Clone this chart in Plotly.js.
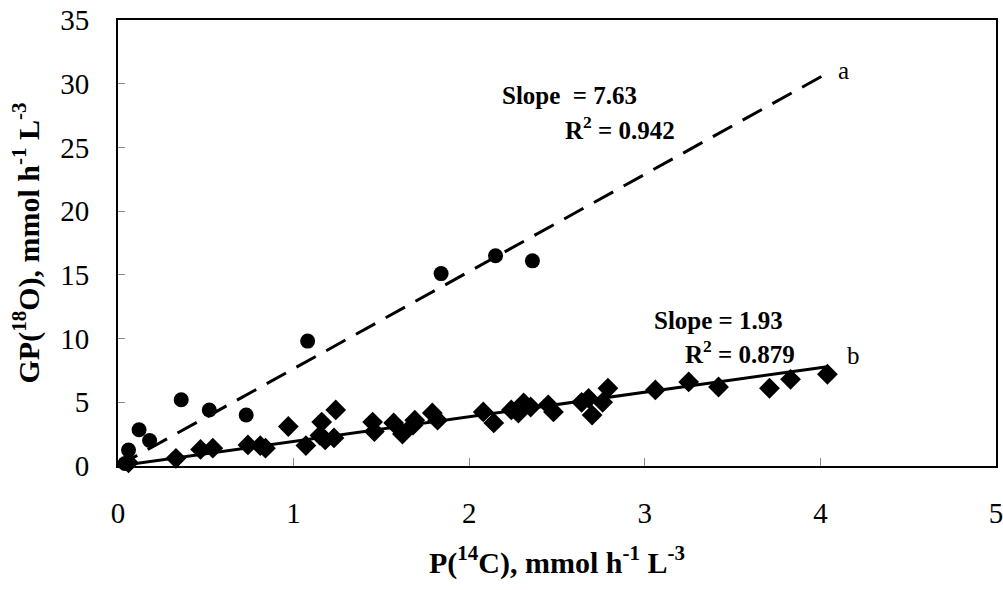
<!DOCTYPE html>
<html>
<head>
<meta charset="utf-8">
<script src="https://cdn.plot.ly/plotly-3.0.1.min.js"></script>
<style>html,body{margin:0;padding:0;background:#fff;}#chart{width:1003px;height:590px;}</style>
</head>
<body>
<div id="chart"></div>
<script>
// Series a (circles)
const aX = [0.04, 0.06, 0.12, 0.18, 0.36, 0.52, 0.73, 1.08, 1.84, 2.15, 2.36];
const aY = [0.2, 1.26, 2.85, 2.0, 5.2, 4.4, 4.0, 9.8, 15.1, 16.5, 16.1];
// Series b (diamonds)
const bX = [0.06, 0.33, 0.47, 0.54, 0.74, 0.81, 0.84, 0.97, 1.07, 1.15, 1.16, 1.18, 1.23, 1.24,
            1.45, 1.46, 1.57, 1.62, 1.68, 1.69, 1.79, 1.82, 2.08, 2.14, 2.24, 2.28, 2.31, 2.35,
            2.45, 2.48, 2.64, 2.68, 2.70, 2.76, 2.79, 3.06, 3.25, 3.42, 3.71, 3.83, 4.04];
const bY = [0.25, 0.6, 1.3, 1.4, 1.65, 1.6, 1.4, 3.1, 1.6, 2.4, 3.45, 2.05, 2.2, 4.4,
            3.45, 2.7, 3.38, 2.51, 3.2, 3.6, 4.16, 3.6, 4.24, 3.38, 4.4, 4.16, 4.95, 4.63,
            4.8, 4.24, 5.0, 5.3, 4.0, 5.0, 6.1, 5.97, 6.6, 6.2, 6.1, 6.8, 7.2];
// Regression fits
const slopes = [7.63, 1.93];
const r2 = [0.942, 0.879];
const fitXa = [0, 4.05];
const fitXb = [0, 4.04];
const xTicks = [0, 1, 2, 3, 4, 5];
const yTicks = [0, 5, 10, 15, 20, 25, 30, 35];

const serif = "Liberation Serif, Times New Roman, serif";

const traces = [
  {x: fitXa, y: fitXa.map(v => v * slopes[0]), mode: 'lines', type: 'scatter',
   line: {color: '#000', width: 3, dash: '22px,12px'}, hoverinfo: 'skip'},
  {x: fitXb, y: fitXb.map(v => v * slopes[1]), mode: 'lines', type: 'scatter',
   line: {color: '#000', width: 3}, hoverinfo: 'skip'},
  {x: aX, y: aY, mode: 'markers', type: 'scatter', cliponaxis: false,
   marker: {symbol: 'circle', size: 15, color: '#000'}},
  {x: bX, y: bY, mode: 'markers', type: 'scatter', cliponaxis: false,
   marker: {symbol: 'diamond', size: 16, color: '#000'}}
];

const layout = {
  width: 1003, height: 590,
  margin: {l: 118, r: 7, t: 20, b: 124},
  paper_bgcolor: '#fff', plot_bgcolor: '#fff',
  showlegend: false,
  font: {family: serif, color: '#000'},
  xaxis: {
    range: [0, 5], tickvals: xTicks, ticktext: xTicks.map(String),
    showgrid: false, zeroline: false,
    showline: true, linecolor: '#000', linewidth: 2, mirror: true,
    ticks: 'inside', ticklen: 8, tickcolor: '#888', tickwidth: 1,
    tickfont: {family: serif, size: 29, color: '#000'},
    ticklabelstandoff: 20, ticklabeloverflow: 'allow',
    title: {text: '<b>P(<sup>14</sup>C), mmol h<sup>-1</sup> L<sup>-3</sup></b>',
            font: {family: serif, size: 30, color: '#000'}, standoff: 24}
  },
  yaxis: {
    range: [0, 35], tickvals: yTicks, ticktext: yTicks.map(String),
    showgrid: false, zeroline: false,
    showline: true, linecolor: '#000', linewidth: 2, mirror: true,
    ticks: 'inside', ticklen: 7, tickcolor: '#888', tickwidth: 1,
    tickfont: {family: serif, size: 29, color: '#000'},
    ticklabelstandoff: 21, ticklabeloverflow: 'allow',
    title: {text: '<b>GP(<sup>18</sup>O), mmol h<sup>-1</sup> L<sup>-3</sup></b>',
            font: {family: serif, size: 30, color: '#000'}, standoff: 12}
  },
  annotations: [
    {x: 2.574, y: 29.1, xref: 'x', yref: 'y', text: '<b>Slope  = ' + slopes[0].toFixed(2) + '</b>',
     showarrow: false, font: {family: serif, size: 25}},
    {x: 2.86, y: 26.5, xref: 'x', yref: 'y', text: '<b>R<sup>2</sup> = ' + r2[0].toFixed(3) + '</b>',
     showarrow: false, font: {family: serif, size: 25}},
    {x: 4.09, y: 31.0, xref: 'x', yref: 'y', text: 'a', xanchor: 'left',
     showarrow: false, font: {family: serif, size: 25}},
    {x: 3.417, y: 11.45, xref: 'x', yref: 'y', text: '<b>Slope = ' + slopes[1].toFixed(2) + '</b>',
     showarrow: false, font: {family: serif, size: 25}},
    {x: 3.54, y: 8.95, xref: 'x', yref: 'y', text: '<b>R<sup>2</sup> = ' + r2[1].toFixed(3) + '</b>',
     showarrow: false, font: {family: serif, size: 25}},
    {x: 4.14, y: 8.7, xref: 'x', yref: 'y', text: 'b', xanchor: 'left',
     showarrow: false, font: {family: serif, size: 25}}
  ]
};

Plotly.newPlot('chart', traces, layout, {displayModeBar: false, staticPlot: true});
</script>
</body>
</html>
